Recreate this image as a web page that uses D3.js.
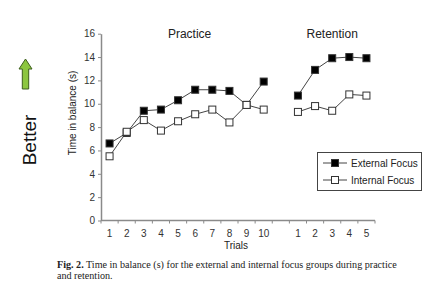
<!DOCTYPE html>
<html lang="en">
<head>
<meta charset="UTF-8">
<script src="https://d3js.org/d3.v7.min.js"></script>
<style>
  body { margin: 0; background: #fff; }
  text { font-family: "Liberation Sans", Arial, sans-serif; }
</style>
</head>
<body>
<div id="container"></div>
<script>
// trials
var practiceTrials = ["1","2","3","4","5","6","7","8","9","10"];
var retentionTrials = ["1","2","3","4","5"];
// time in balance (s)
var externalPractice = [6.6, 7.5, 9.4, 9.5, 10.3, 11.2, 11.2, 11.1, 9.9, 11.9];
var internalPractice = [5.5, 7.6, 8.6, 7.7, 8.5, 9.1, 9.5, 8.4, 9.9, 9.5];
var externalRetention = [10.7, 12.9, 13.9, 14.0, 13.9];
var internalRetention = [9.3, 9.8, 9.4, 10.8, 10.7];
var yTicks = [0, 2, 4, 6, 8, 10, 12, 14, 16];
var seriesNames = ["External Focus", "Internal Focus"];

var width = 444, height = 303;
var svg = d3.select("#container").append("svg").attr("width", width).attr("height", height);

// one band per trial, with an empty slot between the two phases
var keys = practiceTrials.map(d => "P" + d).concat(["gap"]).concat(retentionTrials.map(d => "R" + d));
var x = d3.scaleBand().domain(keys).range([101, 375]).padding(0);
var y = d3.scaleLinear().domain([0, 16]).range([220.5, 33.7]);
var cx = k => x(k) + x.bandwidth() / 2;

var axisColor = "#8a8a8a";

// y axis
var yAxis = svg.append("g").attr("transform", "translate(101,0)")
  .call(d3.axisLeft(y).tickValues(yTicks).tickSize(3).tickSizeOuter(0).tickPadding(3));
yAxis.select(".domain").attr("stroke", axisColor).attr("stroke-width", 1.5);
yAxis.selectAll(".tick line").attr("stroke", axisColor);
yAxis.selectAll(".tick text").attr("font-size", 10).attr("fill", "#333")
  .style("font-family", "Liberation Sans, Arial, sans-serif");

// x axis
var xg = svg.append("g").attr("transform", "translate(0," + y(0) + ")");
xg.append("line").attr("x1", x.range()[0]).attr("x2", x.range()[1])
  .attr("stroke", axisColor).attr("stroke-width", 1.5);
xg.selectAll(".xt").data(keys.concat(["end"])).join("line")
  .attr("x1", d => d === "end" ? x.range()[1] : x(d))
  .attr("x2", d => d === "end" ? x.range()[1] : x(d))
  .attr("y1", 0).attr("y2", 3).attr("stroke", axisColor);
xg.selectAll(".xl").data(keys.filter(k => k !== "gap")).join("text")
  .attr("x", d => cx(d)).attr("y", 16).attr("text-anchor", "middle")
  .attr("font-size", 10).attr("fill", "#333")
  .text(d => d.slice(1));

// axis titles
svg.append("text").attr("x", 236).attr("y", 249).attr("text-anchor", "middle")
  .attr("font-size", 10).attr("fill", "#222").text("Trials");
svg.append("text").attr("transform", "translate(76,113) rotate(-90)").attr("text-anchor", "middle")
  .attr("font-size", 10).attr("fill", "#222").text("Time in balance (s)");

// phase titles
svg.append("text").attr("x", (cx("P1") + cx("P10")) / 2 + 3).attr("y", 38).attr("text-anchor", "middle")
  .attr("font-size", 12).attr("fill", "#222").text("Practice");
svg.append("text").attr("x", cx("R3")).attr("y", 38).attr("text-anchor", "middle")
  .attr("font-size", 12).attr("fill", "#222").text("Retention");

// series
var series = [
  { name: seriesNames[0], fill: "#000", pts: [externalPractice.map((v, i) => ({k: "P" + practiceTrials[i], v})),
                                             externalRetention.map((v, i) => ({k: "R" + retentionTrials[i], v}))] },
  { name: seriesNames[1], fill: "#fff", pts: [internalPractice.map((v, i) => ({k: "P" + practiceTrials[i], v})),
                                             internalRetention.map((v, i) => ({k: "R" + retentionTrials[i], v}))] }
];
var line = d3.line().x(d => cx(d.k)).y(d => y(d.v));
var ms = 7;

series.forEach(function(s) {
  s.pts.forEach(function(seg) {
    svg.append("path").datum(seg).attr("fill", "none").attr("stroke", "#444")
      .attr("stroke-width", 1).attr("d", line);
  });
});
series.forEach(function(s) {
  s.pts.forEach(function(seg) {
    svg.selectAll(null).data(seg).join("rect")
      .attr("x", d => cx(d.k) - ms / 2).attr("y", d => y(d.v) - ms / 2)
      .attr("width", ms).attr("height", ms)
      .attr("fill", s.fill).attr("stroke", "#333").attr("stroke-width", 1);
  });
});

// legend
var lg = svg.append("g");
lg.append("rect").attr("x", 317.5).attr("y", 152.5).attr("width", 104).attr("height", 38)
  .attr("fill", "#fff").attr("stroke", "#444").attr("stroke-width", 1);
series.forEach(function(s, i) {
  var ly = 163 + i * 17;
  lg.append("line").attr("x1", 323).attr("x2", 347).attr("y1", ly).attr("y2", ly)
    .attr("stroke", "#444");
  lg.append("rect").attr("x", 335 - ms / 2).attr("y", ly - ms / 2).attr("width", ms).attr("height", ms)
    .attr("fill", s.fill).attr("stroke", "#333");
  lg.append("text").attr("x", 351).attr("y", ly + 3.5).attr("font-size", 10).attr("fill", "#222").text(s.name);
});

// "Better" arrow
svg.append("path")
  .attr("d", "M25.5,59 L32,69 L28.7,69 L28.7,89 L22.3,89 L22.3,69 L19,69 Z")
  .attr("fill", "#8cc63f").attr("stroke", "#3d5e1c").attr("stroke-width", 1);
svg.append("text").attr("transform", "translate(36,140) rotate(-90)").attr("text-anchor", "middle")
  .attr("font-size", 19).attr("fill", "#111").text("Better");

// caption
var cap = svg.append("text").attr("x", 57).attr("y", 268)
  .style("font-family", "Liberation Serif, Times New Roman, serif").attr("font-size", 9).attr("fill", "#222");
cap.append("tspan").attr("font-weight", "bold").text("Fig. 2.");
cap.append("tspan").text(" Time in balance (s) for the external and internal focus groups during practice");
var cap2 = svg.append("text").attr("x", 57).attr("y", 279)
  .style("font-family", "Liberation Serif, Times New Roman, serif").attr("font-size", 9).attr("fill", "#222")
  .text("and retention.");
// fit first line to the column width
var w = cap.node().getComputedTextLength();
var fs = 9 * 340 / w;
cap.attr("font-size", fs);
cap2.attr("font-size", fs);
</script>
</body>
</html>
